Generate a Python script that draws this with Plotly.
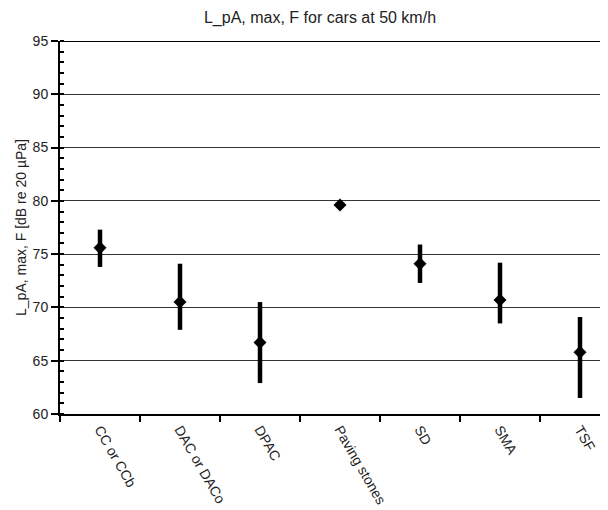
import plotly.graph_objects as go

categories = ["CC or CCb", "DAC or DACo", "DPAC", "Paving stones", "SD", "SMA", "TSF"]
mean_values = [75.6, 70.5, 66.7, 79.6, 74.1, 70.7, 65.8]
max_values = [77.3, 74.1, 70.5, 79.6, 75.9, 74.2, 69.1]
min_values = [73.8, 67.9, 62.9, 79.6, 72.3, 68.5, 61.5]
y_ticks = [60, 65, 70, 75, 80, 85, 90, 95]

err_plus = [mx - m for mx, m in zip(max_values, mean_values)]
err_minus = [m - mn for m, mn in zip(mean_values, min_values)]

FONT = "Liberation Sans, Arial, sans-serif"
TXT = "#222"

# the page body adds an 8px offset; margins below compensate for it
fig = go.Figure()
fig.add_trace(go.Scatter(
    x=categories, y=mean_values, mode="markers",
    marker=dict(symbol="diamond", size=10, color="black"),
    error_y=dict(type="data", symmetric=False, array=err_plus, arrayminus=err_minus,
                 color="black", thickness=4.5, width=0),
    showlegend=False,
))

fig.update_layout(
    width=608, height=510,
    margin=dict(l=52, r=0, t=33, b=104),
    paper_bgcolor="white", plot_bgcolor="white",
    font=dict(family=FONT, size=14, color=TXT),
    title=dict(text="L_pA, max, F for cars at 50 km/h", x=312/608, xanchor="center",
               y=1 - 9/510, yanchor="middle", font=dict(size=16, family=FONT, color=TXT)),
)
fig.update_xaxes(
    type="category", range=[-0.5, -0.5 + 556/80], automargin=False,
    showgrid=False, showline=True, linecolor="black", linewidth=2,
    ticks="outside", ticklen=6, tickcolor="black", tickwidth=1.5, tickson="boundaries",
    tickangle=60, tickfont=dict(size=14, family=FONT, color=TXT),
    zeroline=False,
)
fig.update_yaxes(
    range=[60, 95], tickvals=y_ticks, automargin=False,
    showgrid=True, gridcolor="#333", gridwidth=1,
    showline=True, linecolor="black", linewidth=2, mirror=False,
    ticks="outside", ticklen=7, tickcolor="black", tickwidth=1.5,
    minor=dict(ticks="inside", ticklen=4, dtick=1, tickcolor="black", tickwidth=1.5, showgrid=False),
    tickfont=dict(size=14, family=FONT, color=TXT),
    title=dict(text="L_pA, max, F [dB re 20 µPa]", font=dict(size=14, family=FONT, color=TXT), standoff=3),
    zeroline=False,
)
# top border line at 95
fig.add_shape(type="line", xref="paper", yref="y", x0=0, x1=1, y0=95, y1=95,
              line=dict(color="black", width=2))

fig.write_html("out.html")
